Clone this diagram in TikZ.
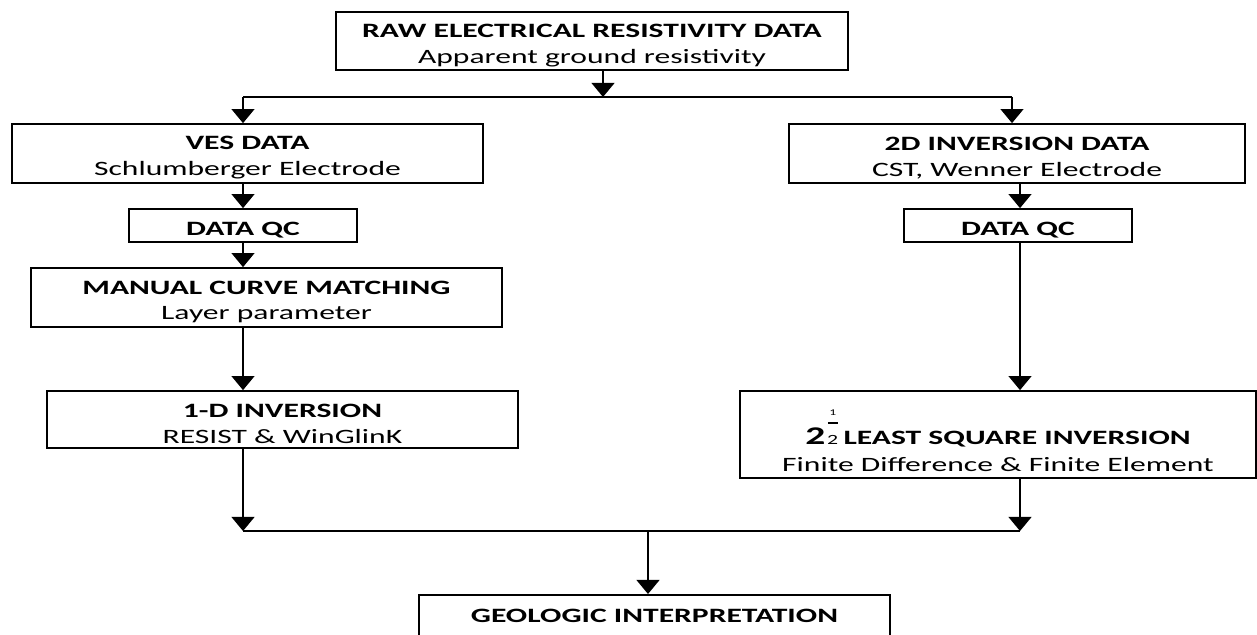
\documentclass[tikz,border=0pt]{standalone}
\usepackage{fontspec}
\setmainfont{Carlito}[FakeStretch=1.55]
\usetikzlibrary{arrows.meta}

\tikzset{
  box/.style={draw, line width=1pt, align=center, inner xsep=2pt, inner ysep=0pt,
    font=\fontsize{11.6}{14.6}\selectfont},
  arr/.style={line width=1pt, -{Triangle[width=13pt,length=8pt]}},
  link/.style={line width=1pt}
}
\newcommand{\lift}{\rule{0pt}{12.5pt}}

\begin{document}
\begin{tikzpicture}[x=0.02cm,y=-0.02cm]
\clip (0,0) rectangle (1257,635);
\fill[white] (0,0) rectangle (1257,635);

\node[box, minimum width=10.24cm, minimum height=1.16cm] (raw) at (592,41)
  {\lift\textbf{RAW ELECTRICAL RESISTIVITY DATA}\\Apparent ground resistivity};

\node[box, minimum width=9.42cm, minimum height=1.18cm] (ves) at (247.5,153.5)
  {\lift\textbf{VES DATA}\\Schlumberger Electrode};
\node[box, minimum width=4.56cm, minimum height=0.66cm] (qcL) at (243,225.5)
  {\lift\textbf{DATA QC}};
\node[box, minimum width=9.42cm, minimum height=1.18cm] (mcm) at (266.5,297.5)
  {\lift\textbf{MANUAL CURVE MATCHING}\\Layer parameter};
\node[box, minimum width=9.42cm, minimum height=1.14cm] (inv1) at (282.5,419.5)
  {\lift\textbf{1-D INVERSION}\\RESIST \& WinGlinK};

\node[box, minimum width=9.12cm, minimum height=1.18cm] (inv2) at (1017,153.5)
  {\lift\textbf{2D INVERSION DATA}\\CST, Wenner Electrode};
\node[box, minimum width=4.56cm, minimum height=0.66cm] (qcR) at (1018,225.5)
  {\lift\textbf{DATA QC}};
\node[box, minimum width=10.32cm, minimum height=1.74cm] (lsq) at (998,434.5)
  {\rule{0pt}{27pt}\textbf{\fontsize{14.5}{14.5}\selectfont 2}\hspace{1pt}%
   \shortstack{\tiny 1\\[1pt]\rule{5.5pt}{1pt}\\[3.5pt]\footnotesize 2}\hspace{3pt}%
   \textbf{LEAST SQUARE INVERSION}\\[1pt]Finite Difference \& Finite Element};

\node[box, anchor=north, minimum width=9.42cm, text height=11.6pt, text depth=30pt,
  inner ysep=4pt] (geo) at (654.5,594) {\textbf{GEOLOGIC INTERPRETATION}};

\coordinate (split) at (603,97);
\coordinate (splitL) at (243,97);
\coordinate (splitR) at (1012,97);
\coordinate (colR) at (1020,97);
\coordinate (joinL) at (243,531);
\coordinate (joinR) at (1020,531);
\coordinate (join) at (648,531);

\draw[arr] (raw.south -| split) -- (split);
\draw[link] (splitL) -- (splitR);
\draw[arr] (splitL) -- (splitL |- ves.north);
\draw[arr] (splitR) -- (splitR |- inv2.north);

\draw[arr] (splitL |- ves.south) -- (splitL |- qcL.north);
\draw[arr] (splitL |- qcL.south) -- (splitL |- mcm.north);
\draw[arr] (splitL |- mcm.south) -- (splitL |- inv1.north);
\draw[arr] (splitL |- inv1.south) -- (joinL);

\draw[arr] (colR |- inv2.south) -- (colR |- qcR.north);
\draw[arr] (colR |- qcR.south) -- (colR |- lsq.north);
\draw[arr] (colR |- lsq.south) -- (joinR);

\draw[link] (joinL) -- (joinR);
\draw[arr] (join) -- (join |- geo.north);
\end{tikzpicture}
\end{document}
